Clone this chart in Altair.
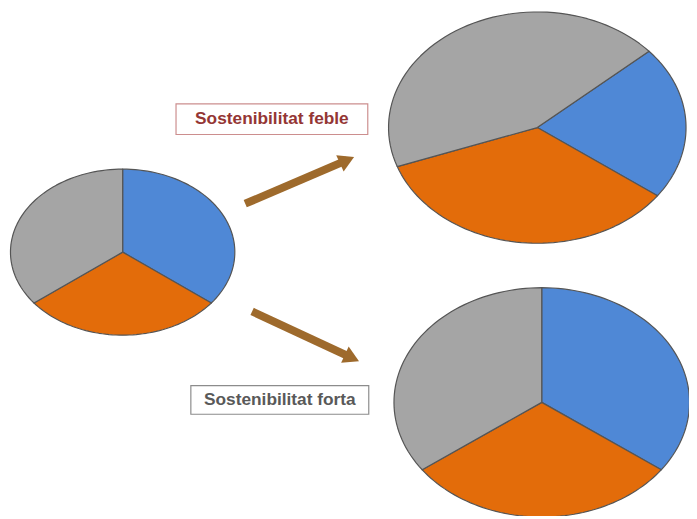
import altair as alt
import pandas as pd

# ---------------- data ----------------
pies = ["Situació inicial", "Sostenibilitat feble", "Sostenibilitat forta"]
components = ["Component 1", "Component 2", "Component 3"]
inicial_values = [35.5, 29.0, 35.5]
feble_values = [21.5, 34.5, 44.0]
forta_values = [35.0, 30.0, 35.0]
box_labels = ["Sostenibilitat feble", "Sostenibilitat forta"]

series = {pies[0]: inicial_values, pies[1]: feble_values, pies[2]: forta_values}

# ---------------- layout (page pixel space) ----------------
pie_layout = {
    pies[0]: dict(cx=124, cy=252, rx=113.5, ry=84, rot=0.0),
    pies[1]: dict(cx=543.5, cy=126, rx=150.5, ry=117, rot=48.7),
    pies[2]: dict(cx=548, cy=404, rx=149.5, ry=116, rot=0.0),
}
colors = ["#4F88D6", "#E36C0A", "#A5A5A5"]

rows = []
for p in pies:
    for i, (c, v) in enumerate(zip(components, series[p])):
        rows.append(dict(pie=p, comp=c, idx=i, value=v, **pie_layout[p]))
df = pd.DataFrame(rows)

W, H = 689, 511
xs = alt.Scale(domain=[8, 8 + W], nice=False, zero=False)
ys = alt.Scale(domain=[8, 8 + H], nice=False, zero=False, reverse=True)

N = 60
pie_chart = (
    alt.Chart(df)
    .transform_joinaggregate(total="sum(value)", groupby=["pie"])
    .transform_window(cum="sum(value)", groupby=["pie"],
                      sort=[alt.SortField("idx", order="ascending")], frame=[None, 0])
    .transform_calculate(k=f"sequence(0, {N + 3})")
    .transform_flatten(["k"])
    .transform_calculate(
        th=f"datum.rot*PI/180 + 2*PI*((datum.cum - datum.value) + datum.value*(datum.k-1)/{N})/datum.total",
        px=f"(datum.k==0 || datum.k=={N + 2}) ? datum.cx : datum.cx + datum.rx*sin(datum.th)",
        py=f"(datum.k==0 || datum.k=={N + 2}) ? datum.cy : datum.cy - datum.ry*cos(datum.th)",
        sid="datum.pie + '|' + datum.comp",
    )
    .mark_line(stroke="#555555", strokeWidth=1.2, strokeJoin="round", clip=True)
    .encode(
        x=alt.X("px:Q", scale=xs, axis=None),
        y=alt.Y("py:Q", scale=ys, axis=None),
        fill=alt.Fill("comp:N", scale=alt.Scale(domain=components, range=colors), legend=None),
        detail="sid:N",
        order="k:Q",
    )
)

# ---------------- arrows ----------------
arrows = pd.DataFrame(dict(
    x=[248, 255], y=[203, 312],
    x2=[351, 356], y2=[159, 359],
    ang=[65.6, 114.8],
))
shafts = alt.Chart(arrows).mark_rule(color="#9E6A2C", strokeWidth=8, strokeCap="butt").encode(
    x=alt.X("x:Q", scale=xs, axis=None), y=alt.Y("y:Q", scale=ys, axis=None),
    x2="x2:Q", y2="y2:Q",
)
heads = alt.Chart(arrows).mark_point(shape="triangle-up", filled=True, color="#9E6A2C",
                                     size=330, opacity=1).encode(
    x=alt.X("x2:Q", scale=xs, axis=None), y=alt.Y("y2:Q", scale=ys, axis=None),
    angle=alt.Angle("ang:Q", scale=None),
)

# ---------------- label boxes ----------------
def box(label, x1, x2, y1, y2, border, textcol):
    d = pd.DataFrame(dict(label=[label], x1=[x1], x2=[x2], y1=[y1], y2=[y2],
                          tx=[(x1 + x2) / 2], ty=[(y1 + y2) / 2]))
    r = alt.Chart(d).mark_rect(fill="white", stroke=border, strokeWidth=1.2).encode(
        x=alt.X("x1:Q", scale=xs, axis=None), x2="x2:Q",
        y=alt.Y("y1:Q", scale=ys, axis=None), y2="y2:Q",
    )
    t = alt.Chart(d).mark_text(font="Liberation Sans", fontWeight="bold", fontSize=17.5,
                               color=textcol, baseline="middle", align="center").encode(
        x=alt.X("tx:Q", scale=xs, axis=None), y=alt.Y("ty:Q", scale=ys, axis=None),
        text="label:N",
    )
    return r + t

box1 = box(box_labels[0], 178, 372, 102, 133, "#CC8E8E", "#943634")
box2 = box(box_labels[1], 193, 373, 387, 416, "#8C8C8C", "#595959")

chart = (
    alt.layer(pie_chart, shafts, heads, box1, box2)
    .properties(width=W, height=H, padding=0,
                autosize=alt.AutoSizeParams(type="none"),
                background="white")
    .configure_view(stroke=None)
)

chart.save("out.html", embed_options={"renderer": "svg", "actions": False})
